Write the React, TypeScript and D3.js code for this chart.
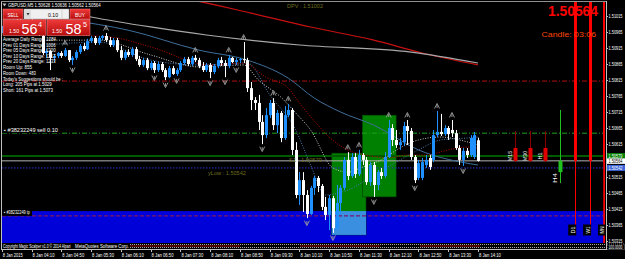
import React from "react";
import * as d3 from "d3";

const W = 625;
const H = 259;

// ---------- candle data (GBPUSD M5, 8 Jan 2015 03:30 .. 14:10) ----------
const opens = [1.5097,1.50977,1.50989,1.50983,1.51002,1.50992,1.50977,1.50983,1.50995,1.50986,1.50964,1.50952,1.50899,1.50905,1.50884,1.5089,1.50899,1.5089,1.50908,1.50877,1.50884,1.50902,1.50921,1.50911,1.50936,1.50946,1.5093,1.50946,1.50952,1.50939,1.50924,1.50939,1.50908,1.50884,1.50902,1.50893,1.50911,1.5088,1.50862,1.50877,1.50852,1.50868,1.50846,1.50865,1.50846,1.50824,1.50852,1.50834,1.50846,1.50868,1.5088,1.50865,1.50884,1.50877,1.50859,1.50846,1.50862,1.5084,1.50859,1.50877,1.50868,1.50859,1.50884,1.50871,1.50877,1.5088,1.50877,1.5079,1.50753,1.50744,1.50685,1.50644,1.50706,1.50744,1.50675,1.50713,1.50635,1.50706,1.50722,1.50598,1.50458,1.50504,1.50458,1.50399,1.5048,1.50511,1.50486,1.50421,1.50396,1.50448,1.50355,1.50433,1.5048,1.50567,1.50517,1.50576,1.50523,1.50582,1.50567,1.50498,1.50551,1.50489,1.50529,1.50517,1.50576,1.50666,1.50629,1.50613,1.50622,1.50672,1.50657,1.50576,1.50511,1.50511,1.50551,1.50573,1.50567,1.50644,1.50654,1.50647,1.50666,1.5066,1.5065,1.50604,1.50567,1.50595,1.50582,1.50576,1.50628];
const highs = [1.50983,1.50995,1.51002,1.51008,1.51014,1.51005,1.50989,1.51002,1.51008,1.50995,1.50977,1.50958,1.50911,1.50908,1.50896,1.50902,1.50905,1.50915,1.50908,1.5089,1.50908,1.50927,1.5093,1.50943,1.50952,1.50952,1.50952,1.50955,1.50961,1.50949,1.50946,1.50946,1.50921,1.50908,1.50911,1.50918,1.50918,1.5089,1.50884,1.50884,1.50874,1.50874,1.50871,1.50871,1.50852,1.50859,1.50859,1.50852,1.50874,1.50887,1.50887,1.5089,1.50893,1.50884,1.50871,1.50868,1.50868,1.50865,1.50884,1.50887,1.50877,1.50893,1.50887,1.50884,1.50884,1.50933,1.50884,1.50809,1.50762,1.50769,1.50706,1.50728,1.50753,1.50759,1.50722,1.50719,1.50734,1.50741,1.50728,1.50622,1.50529,1.50529,1.50473,1.50486,1.50517,1.50517,1.50492,1.50452,1.50458,1.50455,1.50489,1.50489,1.50576,1.50591,1.50588,1.50588,1.50598,1.50588,1.50576,1.5056,1.5056,1.50536,1.50542,1.50591,1.50691,1.50678,1.5066,1.50635,1.50685,1.50691,1.50666,1.50582,1.50567,1.50573,1.50582,1.50582,1.5066,1.50719,1.5071,1.50675,1.50672,1.50691,1.5066,1.50613,1.50604,1.50604,1.50644,1.50654,1.50636];
const lows = [1.50961,1.5097,1.50977,1.50977,1.50986,1.5097,1.50961,1.50974,1.5098,1.50958,1.50952,1.50893,1.50884,1.50846,1.50871,1.50884,1.50884,1.50887,1.50871,1.50862,1.50877,1.50896,1.50905,1.50908,1.5093,1.50924,1.50924,1.50939,1.50933,1.50918,1.50918,1.50902,1.50877,1.50877,1.50887,1.50887,1.50874,1.50856,1.50856,1.50846,1.50846,1.50837,1.5084,1.5084,1.50815,1.50821,1.50831,1.50828,1.5084,1.50862,1.50859,1.50859,1.50871,1.50852,1.5084,1.5084,1.50821,1.50834,1.50852,1.50859,1.50824,1.50852,1.50868,1.50862,1.50868,1.50868,1.50778,1.50722,1.50722,1.5066,1.50616,1.50635,1.50697,1.5066,1.5065,1.50622,1.50629,1.507,1.50582,1.50448,1.50427,1.50405,1.50386,1.50396,1.50458,1.50467,1.50411,1.5038,1.50349,1.5034,1.50349,1.50396,1.50473,1.50504,1.50511,1.50511,1.50517,1.50551,1.50489,1.50486,1.50452,1.50473,1.50508,1.50511,1.50573,1.5061,1.50604,1.50598,1.5061,1.50613,1.50567,1.50495,1.50504,1.50504,1.50542,1.50536,1.5056,1.50638,1.50641,1.50641,1.50629,1.50638,1.50598,1.50551,1.50548,1.50573,1.50576,1.5057,1.50562];
const closes = [1.50977,1.50989,1.50983,1.51002,1.50992,1.50977,1.50983,1.50995,1.50986,1.50964,1.50958,1.50899,1.50905,1.50884,1.5089,1.50899,1.5089,1.50908,1.50877,1.50884,1.50902,1.50921,1.50911,1.50936,1.50946,1.5093,1.50946,1.50952,1.50939,1.50924,1.50939,1.50908,1.50884,1.50902,1.50893,1.50911,1.5088,1.50862,1.50877,1.50852,1.50868,1.50846,1.50865,1.50846,1.50824,1.50852,1.50834,1.50846,1.50868,1.5088,1.50865,1.50884,1.50877,1.50859,1.50846,1.50862,1.5084,1.50859,1.50877,1.50868,1.50859,1.50884,1.50871,1.50877,1.5088,1.50877,1.5079,1.50753,1.50744,1.50685,1.50644,1.50706,1.50744,1.50675,1.50713,1.50635,1.50706,1.50722,1.50598,1.50458,1.50504,1.50458,1.50399,1.5048,1.50511,1.50486,1.50421,1.50396,1.50448,1.50355,1.50433,1.5048,1.50567,1.50517,1.50576,1.50523,1.50582,1.50567,1.50498,1.50551,1.50489,1.50529,1.50517,1.50576,1.50666,1.50629,1.50613,1.50622,1.50672,1.50657,1.50576,1.50504,1.50557,1.5056,1.50567,1.50545,1.50644,1.50654,1.50647,1.50666,1.50647,1.5065,1.50604,1.50567,1.50595,1.50582,1.50635,1.50644,1.50564];

const fractalHighBars = [17, 28, 52, 61, 65, 73, 77, 93, 96, 104, 109, 117, 121];
const fractalLowBars = [19, 41, 44, 47, 56, 60, 63, 70, 82, 89, 100, 111, 124];

// ---------- moving averages (bar index, price) ----------
const maRedBars = [44, 54, 67, 83, 100, 113, 128];
const maRedVals = [1.51079, 1.51057, 1.51023, 1.5098, 1.50939, 1.50899, 1.50862];
const maGrayBars = [20, 24, 40, 55, 80, 110, 128];
const maGrayVals = [1.5102, 1.51011, 1.5098, 1.50955, 1.50924, 1.50902, 1.50868];
const maSteelBars = [18, 34, 53, 66, 77, 84, 91, 100, 112, 128];
const maSteelVals = [1.51002, 1.5097, 1.50908, 1.50877, 1.50821, 1.50759, 1.50716, 1.50675, 1.50598, 1.50551];
const maRedDotBars = [16, 29, 40, 56, 65, 71, 77, 80, 85, 88, 93, 98, 104, 109, 114, 120, 125, 128];
const maRedDotVals = [1.50955, 1.50949, 1.50918, 1.50862, 1.50868, 1.50824, 1.5079, 1.50744, 1.50675, 1.50638, 1.50598, 1.50582, 1.50573, 1.50582, 1.50582, 1.50598, 1.50607, 1.50604];
const maGrayDotBars = [12, 26, 40, 53, 65, 69, 75, 79, 83, 89, 93, 97, 102, 107, 112, 118, 123, 128];
const maGrayDotVals = [1.50939, 1.50939, 1.50893, 1.50856, 1.50862, 1.50815, 1.50762, 1.50713, 1.5066, 1.50542, 1.50529, 1.50545, 1.50567, 1.50604, 1.50629, 1.50638, 1.50629, 1.50613];
const maBlueDotBars = [12, 26, 40, 53, 66, 72, 79, 83, 87, 93, 100, 106, 112, 118, 125, 128];
const maBlueDotVals = [1.50924, 1.50933, 1.50877, 1.50862, 1.50868, 1.50769, 1.5066, 1.50551, 1.50458, 1.50473, 1.5052, 1.5056, 1.50598, 1.50629, 1.50635, 1.50638];

// ---------- levels ----------
const pivotLevel = 1.50812;
const sellLevel = 1.5065;
const s1Level = 1.50579;
const bidLevel = 1.50564;
const yLowLevel = 1.50542;
const tpLevel = 1.50393;
const tpZoneTop = 1.50408;
const tpZoneBottom = 1.5029;

// green session boxes
const boxStart = [88.7, 96.9];
const boxEnd = [97.9, 106];
const boxTop = [1.50588, 1.50706];
const boxBottom = [1.50334, 1.50452];

// multi-timeframe candles
const mtfLabels = ["M15", "M30", "H1", "H4", "D1", "W1", "MN"];
const mtfBars = [138, 142, 146, 150, 154, 158, 162];
const mtfOpen = [1.50604, 1.50604, 1.50604, 1.50529, 1.5115, 1.515, 1.56];
const mtfHigh = [1.50657, 1.50657, 1.50657, 1.50722, 1.5125, 1.52, 1.57];
const mtfLow = [1.5056, 1.5056, 1.5056, 1.50495, 1.50334, 1.50334, 1.502];
const mtfClose = [1.50564, 1.50564, 1.50564, 1.50564, 1.50564, 1.50564, 1.50564];

const timeLabels = ["8 Jan 2015","8 Jan 04:10","8 Jan 04:50","8 Jan 05:30","8 Jan 06:10","8 Jan 06:50","8 Jan 07:30","8 Jan 08:10","8 Jan 08:50","8 Jan 09:30","8 Jan 10:10","8 Jan 10:50","8 Jan 11:30","8 Jan 12:10","8 Jan 12:50","8 Jan 13:30","8 Jan 14:10"];
const priceTicks = [1.51015,1.50965,1.50915,1.50865,1.50815,1.50765,1.50715,1.50665,1.50615,1.50515,1.50465,1.50415,1.50365,1.50315];

const panelLines = [
  "Average Daily Range: 1084",
  "Prev 01  Days Range: 1006",
  "Prev 05  Days Range: 1300",
  "Prev 10  Days Range: 1217",
  "Prev 20  Days Range: 1233",
  "Room Up:     855",
  "Room Down:  483",
  "Today's Suggestions should be :",
  "Long:  205 Pips at 1.5029",
  "Short: 161 Pips at 1.5073",
];
const panelWidths = [53, 54, 54, 54, 54, 34, 34, 60, 50, 50];

const FONT = "'Liberation Sans', Arial, sans-serif";
const BULL = "#1e90ff";
const BEAR = "#ffffff";

let ctx: any = null;
function measure(s: string, size: number, weight: string) {
  if (!ctx) ctx = document.createElement("canvas").getContext("2d");
  ctx.font = `${weight} ${size}px "Liberation Sans", Arial, sans-serif`;
  return ctx.measureText(s).width || 1;
}

// text squeezed horizontally to a given width (the reference font is narrow)
const T = (p: any) => {
  const size = p.size || 6;
  const weight = p.weight || "normal";
  const sx = p.len ? p.len / measure(p.s, size, weight) : 1;
  const rot = p.rot ? ` rotate(${p.rot})` : "";
  return (
    <text
      x={0}
      y={0}
      fontSize={size}
      fill={p.fill || "#fff"}
      fontFamily={FONT}
      fontWeight={weight}
      textAnchor={p.anchor || "start"}
      transform={`translate(${p.x},${p.y})${rot} scale(${sx},1)${p.dy ? ` translate(0,${p.dy})` : ""}`}
    >
      {p.s}
    </text>
  );
};

export default function App() {
  const n = closes.length;
  const x = d3.scaleLinear().domain([0, n - 1]).range([1.8, 478]);
  const y = d3.scaleLinear().domain([1.50315, 1.51015]).range([241, 15.7]);

  const mkLine = (bars: number[], vals: number[]) =>
    d3.line<number>().x((_, i) => x(bars[i])).y((v) => y(v)).curve(d3.curveMonotoneX)(vals) || "";

  const left = 2;
  const right = 605;
  const top = 2;
  const bottom = 243;

  return (
    <svg width={W} height={H} style={{ position: "absolute", left: 0, top: 0, background: "#000" }} fontFamily={FONT}>
      <defs>
        <clipPath id="plot">
          <rect x={left} y={top} width={right - left} height={bottom - top} />
        </clipPath>
        <linearGradient id="redg" x1="0" y1="0" x2="0" y2="1">
          <stop offset="0" stopColor="#ee3a3a" />
          <stop offset="1" stopColor="#b80c0c" />
        </linearGradient>
      </defs>
      <rect x={0} y={0} width={W} height={H} fill="#000" />

      <g clipPath="url(#plot)">
        <rect x={left} y={y(tpZoneTop)} width={right - left} height={y(tpZoneBottom) - y(tpZoneTop)} fill="#0000d8" />
        {boxStart.map((b, i) => (
          <rect key={"bx" + i} x={x(b)} y={y(boxTop[i])} width={x(boxEnd[i]) - x(b)} height={y(boxBottom[i]) - y(boxTop[i])} fill="#008000" stroke="#004000" strokeWidth={0.6} />
        ))}
        <rect x={x(boxStart[0])} y={y(tpZoneTop)} width={x(boxEnd[0]) - x(boxStart[0])} height={y(boxBottom[0]) - y(tpZoneTop)} fill="#3a8fe0" />

        <line x1={left} x2={right} y1={y(pivotLevel)} y2={y(pivotLevel)} stroke="#b01010" strokeWidth={1} strokeDasharray="5 2 1 2" />
        <line x1={left} x2={right} y1={y(sellLevel)} y2={y(sellLevel)} stroke="#1fa01f" strokeWidth={1} strokeDasharray="5 2 1 2" />
        <line x1={left} x2={right} y1={y(s1Level)} y2={y(s1Level)} stroke="#005a00" strokeWidth={2} />
        <line x1={left} x2={right} y1={y(bidLevel)} y2={y(bidLevel)} stroke="#b4b4b4" strokeWidth={1} />
        <line x1={left} x2={right} y1={y(yLowLevel)} y2={y(yLowLevel)} stroke="#3030d0" strokeWidth={1} strokeDasharray="1.5 1.5" />
        <line x1={left} x2={right} y1={y(tpLevel)} y2={y(tpLevel)} stroke="#7a1a6a" strokeWidth={1.4} strokeDasharray="4 2" />

        <path d={mkLine(maRedBars, maRedVals)} fill="none" stroke="#c81010" strokeWidth={1.2} />
        <path d={mkLine(maGrayBars, maGrayVals)} fill="none" stroke="#a8a8a8" strokeWidth={1.2} />
        <path d={mkLine(maSteelBars, maSteelVals)} fill="none" stroke="#3f6f9a" strokeWidth={1} />
        <path d={mkLine(maBlueDotBars, maBlueDotVals)} fill="none" stroke="#4a7ab0" strokeWidth={1} strokeDasharray="1 1.5" />
        <path d={mkLine(maGrayDotBars, maGrayDotVals)} fill="none" stroke="#c8c8c8" strokeWidth={1} strokeDasharray="1 1.5" />
        <path d={mkLine(maRedDotBars, maRedDotVals)} fill="none" stroke="#c00000" strokeWidth={1} strokeDasharray="1 1.5" />

        {closes.map((c, i) => {
          const o = opens[i];
          const col = c > o ? BULL : BEAR;
          const cx = Math.round(x(i)) + 0.5;
          const t = y(Math.max(o, c));
          const b = y(Math.min(o, c));
          return (
            <g key={"c" + i}>
              <line x1={cx} x2={cx} y1={y(highs[i])} y2={y(lows[i])} stroke={col} strokeWidth={1} />
              <rect x={cx - 1.5} y={t} width={3} height={Math.max(1, b - t)} fill={col} />
            </g>
          );
        })}

        {fractalHighBars.map((b) => {
          const cx = x(b);
          const cy = y(highs[b]) - 5;
          return <path key={"fh" + b} d={`M${cx - 2.5},${cy + 2.5}L${cx},${cy - 2.5}L${cx + 2.5},${cy + 2.5}M${cx},${cy - 1}V${cy + 2}`} fill="none" stroke="#a0a0a0" strokeWidth={0.9} />;
        })}
        {fractalLowBars.map((b) => {
          const cx = x(b);
          const cy = y(lows[b]) + 5;
          return <path key={"fl" + b} d={`M${cx - 2.5},${cy - 2.5}L${cx},${cy + 2.5}L${cx + 2.5},${cy - 2.5}M${cx},${cy + 1}V${cy - 2}`} fill="none" stroke="#a0a0a0" strokeWidth={0.9} />;
        })}

        {mtfBars.map((b, i) => {
          const cx = Math.round(x(b)) + 0.5;
          const bull = mtfClose[i] > mtfOpen[i];
          const big = i >= 4;
          const col = bull ? "#20c020" : i < 3 ? "#e00000" : "#ff0000";
          const wickCol = bull ? "#20c020" : i < 4 ? "#8a0000" : "#ff0000";
          const t = y(Math.max(mtfOpen[i], mtfClose[i]));
          const bt = y(Math.min(mtfOpen[i], mtfClose[i]));
          return (
            <g key={"m" + i}>
              <line x1={cx} x2={cx} y1={y(mtfHigh[i])} y2={y(mtfLow[i])} stroke={wickCol} strokeWidth={i === 6 ? 2.5 : 1} />
              <rect x={cx - (big ? 1.5 : 2)} y={t} width={big ? 3 : 4} height={bt - t} fill={col} />
            </g>
          );
        })}
      </g>

      {mtfBars.slice(0, 4).map((b, i) => (
        <T key={"ml" + i} x={x(b) - 3} y={i < 3 ? 156 : 178} size={5.5} anchor="middle" rot={-90} len={i === 2 ? 7 : 10} s={mtfLabels[i]} />
      ))}
      {mtfBars.slice(4).map((b, j) => {
        const cx = x(b) - 2;
        const cy = 230;
        return (
          <g key={"mb" + j}>
            <rect x={cx - 4.5} y={cy - 5.5} width={8} height={11} fill="#000" />
            <T x={cx + 2} y={cy} size={5.5} anchor="middle" rot={-90} len={7} s={mtfLabels[j + 4]} />
          </g>
        );
      })}

      <rect x={2} y={y(sellLevel) - 5} width={58} height={5} fill="#000" />
      <T x={4} y={y(sellLevel) - 1} size={5} len={54} s="▪ #38232249 sell 0.10" />
      <rect x={2} y={y(tpLevel) - 6} width={30} height={6} fill="#000" />
      <T x={4} y={y(tpLevel) - 1.5} size={5} len={26} s="▪ #38232249 tp" />
      <T x={289} y={161.5} size={6} fill="#6e6e1e" len={33} s="S1 : 1.50579" />
      <T x={208} y={174.5} size={6} fill="#6e6e1e" len={38} s="yLow : 1.50542" />
      <T x={287} y={8} size={6} fill="#6e6e1e" len={36} s="DPV : 1.51002" />

      <T x={598} y={16} size={14} fill="#ff0000" weight="bold" anchor="end" len={50} s="1.50564" />
      <T x={596} y={37} size={8} fill="#ff4500" anchor="end" len={57} s="Candle:  03:06" />

      <T x={8} y={7} size={6} len={94} s="GBPUSD,M5  1.50628 1.50636 1.50562 1.50564" />
      <path d="M2.5,3.5 L6.5,3.5 L4.5,6.5 Z" fill="#c0c0c0" />
      <rect x={3} y={9} width={20} height={10} fill="url(#redg)" stroke="#ff8080" strokeWidth={0.5} />
      <T x={13} y={16.5} size={5.5} anchor="middle" len={11} s="SELL" />
      <rect x={24} y={9} width={45} height={10} fill="#f0f0f0" stroke="#a0a0a0" strokeWidth={0.5} />
      <rect x={25} y={10} width={6} height={8} fill="#dcdcdc" />
      <path d="M26.5,13 L29.5,13 L28,15.5 Z" fill="#333" />
      <T x={53} y={16.5} size={5.5} fill="#000" anchor="middle" len={10} s="0.10" />
      <line x1={62} x2={62} y1={10} y2={18} stroke="#b0b0b0" strokeWidth={0.5} />
      <rect x={70} y={9} width={20} height={10} fill="url(#redg)" stroke="#ff8080" strokeWidth={0.5} />
      <T x={80} y={16.5} size={5.5} anchor="middle" len={10} s="BUY" />
      <rect x={3} y={19.5} width={43} height={16} fill="url(#redg)" stroke="#ff9090" strokeWidth={0.5} />
      <rect x={47} y={19.5} width={43} height={16} fill="url(#redg)" stroke="#ff9090" strokeWidth={0.5} />
      <T x={9} y={33} size={5.5} len={10} s="1.50" />
      <T x={21.5} y={33.5} size={14} len={16} s="56" />
      <T x={38} y={27} size={7} len={4} s="4" />
      <T x={52} y={33} size={5.5} len={10} s="1.50" />
      <T x={65.5} y={33.5} size={14} len={16} s="58" />
      <T x={83} y={27} size={7} len={4} s="5" />

      {panelLines.map((s, i) => (
        <T key={"pl" + i} x={3} y={41 + i * 5.6 + (i >= 7 ? 0.5 : 0)} size={5.2} len={panelWidths[i]} s={s} />
      ))}

      <rect x={2} y={243} width={604} height={6} fill="#000" />
      <T x={3} y={247.8} size={4.8} len={68} s="Copyright Magic Scalper v1.0 © 2014 Alpari" />
      <T x={75} y={247.8} size={4.8} len={54} s="MetaQuotes Software Corp." />
      <line x1={130} x2={605} y1={244.5} y2={244.5} stroke="#d0d0d0" strokeWidth={0.8} strokeDasharray="1 1" />
      <line x1={130} x2={605} y1={247.5} y2={247.5} stroke="#d0d0d0" strokeWidth={0.8} strokeDasharray="1 1" />
      <line x1={130} x2={240} y1={246} y2={246} stroke="#c01010" strokeWidth={0.8} />
      <line x1={300} x2={380} y1={246} y2={246} stroke="#c01010" strokeWidth={0.8} />
      <line x1={420} x2={480} y1={246} y2={246} stroke="#c01010" strokeWidth={0.8} />

      <line x1={1.5} x2={1.5} y1={1} y2={249} stroke="#c0c0c0" strokeWidth={1} />
      <line x1={1} x2={606} y1={1.5} y2={1.5} stroke="#909090" strokeWidth={1} />
      <line x1={606.5} x2={606.5} y1={1} y2={250} stroke="#c0c0c0" strokeWidth={1} />
      <line x1={1} x2={607} y1={249.5} y2={249.5} stroke="#c0c0c0" strokeWidth={1} />

      {timeLabels.map((s, i) => {
        const tx = x(i * 8);
        return (
          <g key={"t" + i}>
            <line x1={Math.round(tx) + 0.5} x2={Math.round(tx) + 0.5} y1={249.5} y2={252} stroke="#c0c0c0" strokeWidth={1} />
            <T x={tx + 1} y={257} size={5.5} len={i === 0 ? 20 : 22} s={s} />
          </g>
        );
      })}

      {priceTicks.map((p) => (
        <g key={"p" + p}>
          <line x1={606} x2={608} y1={Math.round(y(p)) + 0.5} y2={Math.round(y(p)) + 0.5} stroke="#c0c0c0" strokeWidth={1} />
          <T x={608.5} y={y(p) + 2} size={5.5} len={14} s={p.toFixed(5)} />
        </g>
      ))}
      <rect x={607} y={y(s1Level) - 3} width={18} height={5.5} fill="#008000" />
      <T x={608.5} y={y(s1Level) + 1.8} size={5} len={14} s={s1Level.toFixed(5)} />
      <rect x={607} y={y(bidLevel) - 2.5} width={18} height={5.5} fill="#ffffff" />
      <T x={608.5} y={y(bidLevel) + 2.2} size={5} fill="#000" len={14} s={bidLevel.toFixed(5)} />
      <rect x={607} y={y(yLowLevel) - 3} width={18} height={6} fill="#3c64d8" />
      <T x={608.5} y={y(yLowLevel) + 2} size={5} len={14} s={yLowLevel.toFixed(5)} />
      <rect x={607} y={244} width={17.5} height={5.5} fill="#000" stroke="#c0c0c0" strokeWidth={0.6} strokeDasharray="1 1" />
      <T x={608.5} y={248.5} size={4.5} len={14} s="100.0000" />
    </svg>
  );
}
